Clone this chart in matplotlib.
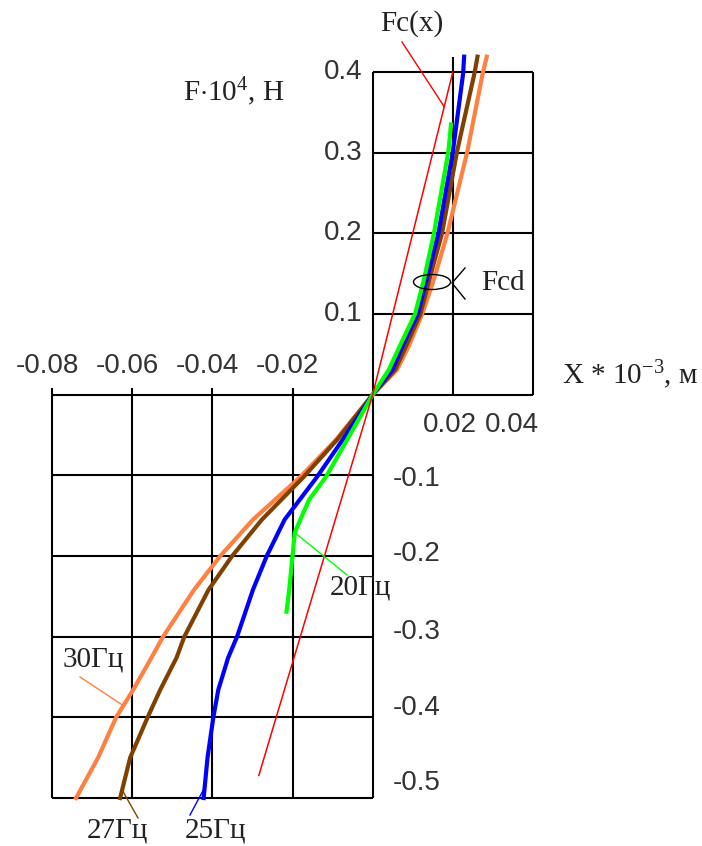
import numpy as np
import matplotlib
matplotlib.use("Agg")
import matplotlib.pyplot as plt
from matplotlib.patches import Ellipse

# Reference characteristic Fc(x)
fc_x = [-0.0284, 0.0, 0.0200]
fc_y = [-0.472, 0.0, 0.400]

# Measured force-displacement curves (x in 1e-3 m, F in 1e4 N)
green_x = [-0.02148, -0.02074, -0.0200, -0.01944, -0.01806, -0.01583, -0.01167, -0.00639,
           0.0, 0.00404, 0.00674, 0.01056, 0.01281, 0.01528, 0.01888, 0.01955]
green_y = [-0.269, -0.238, -0.200, -0.171, -0.155, -0.130, -0.102, -0.056,
           0.0, 0.031, 0.060, 0.100, 0.143, 0.200, 0.301, 0.335]

curve_y = [-0.500, -0.450, -0.400, -0.366, -0.326, -0.300, -0.242, -0.200, -0.155, -0.102,
           -0.056, 0.0, 0.031, 0.060, 0.100, 0.143, 0.200, 0.301, 0.398, 0.419]
blue_x = [-0.04217, -0.0412, -0.03975, -0.03852, -0.03605, -0.03383, -0.02988, -0.02642,
          -0.02198, -0.01389, -0.0075, 0.0, 0.00494, 0.00742, 0.01124, 0.01348, 0.0164,
          0.0200, 0.02256, 0.02282]
brown_x = [-0.0630, -0.0605, -0.05614, -0.05301, -0.04892, -0.04699, -0.04096, -0.03506,
           -0.02765, -0.01722, -0.00889, 0.0, 0.00562, 0.00831, 0.01191, 0.01416, 0.0173,
           0.02103, 0.02538, 0.02615]
orange_x = [-0.0740, -0.0685, -0.0640, -0.05976, -0.05518, -0.05229, -0.04458, -0.03802,
            -0.02988, -0.01806, -0.00917, 0.0, 0.00607, 0.00899, 0.01236, 0.01528, 0.01865,
            0.02359, 0.02744, 0.02846]

x_ticks_neg = [-0.08, -0.06, -0.04, -0.02]
x_ticks_pos = [0.02, 0.04]
y_ticks_pos = [0.1, 0.2, 0.3, 0.4]
y_ticks_neg = [-0.1, -0.2, -0.3, -0.4, -0.5]

C_GREEN = "#00ff00"
C_BLUE = "#0000ff"
C_BROWN = "#804000"
C_ORANGE = "#ff8040"
C_RED = "#ff0000"

plt.rcParams["mathtext.fontset"] = "custom"
plt.rcParams["mathtext.rm"] = "Liberation Serif"
plt.rcParams["mathtext.it"] = "Liberation Serif:italic"

W, H = 702, 846
fig = plt.figure(figsize=(W / 100, H / 100), dpi=100)
fig.patch.set_facecolor("white")
ax = fig.add_axes([52 / W, 1 - 798 / H, 481 / W, 726 / H])
ax.set_xlim(-0.08, 0.04)
ax.set_ylim(-0.5, 0.4)
ax.axis("off")

px_per_x = 481 / 0.12
px_per_y = 726 / 0.9

def px2data(px, py):
    return (px - 52) / px_per_x - 0.08, 0.4 - (py - 72) / px_per_y

grid_kw = dict(color="black", lw=1.5, clip_on=False, zorder=1)
# upper-right frame
ax.hlines(y_ticks_pos, 0, x_ticks_pos[-1], **grid_kw)
ax.vlines([0.0] + x_ticks_pos, 0, y_ticks_pos[-1], **grid_kw)
ax.vlines(x_ticks_pos[0], y_ticks_pos[-1], y_ticks_pos[-1] + 15 / px_per_y, **grid_kw)
# x axis
ax.hlines(0, x_ticks_neg[0], x_ticks_pos[-1], **grid_kw)
# lower-left frame
ax.hlines(y_ticks_neg, x_ticks_neg[0], 0, **grid_kw)
ax.vlines(x_ticks_neg + [0.0], y_ticks_neg[-1], 0, **grid_kw)
ax.vlines(x_ticks_neg, 0, 7 / px_per_y, **grid_kw)

# curves
lw_c = 3.0
ax.plot(orange_x, curve_y, color=C_ORANGE, lw=lw_c, clip_on=False, zorder=3)
ax.plot(brown_x, curve_y, color=C_BROWN, lw=lw_c, clip_on=False, zorder=4)
ax.plot(blue_x, curve_y, color=C_BLUE, lw=lw_c, clip_on=False, zorder=5)
ax.plot(green_x, green_y, color=C_GREEN, lw=lw_c, clip_on=False, zorder=6)
ax.plot(fc_x, fc_y, color=C_RED, lw=1.1, clip_on=False, zorder=7)

# tick labels
tick_font = dict(family="Liberation Sans", fontsize=20, color="#333333")
for v in x_ticks_neg:
    ax.text(v - 0.0012, 0.035, f"{v:.2f}", ha="center", va="center", **tick_font)
for v, xt in zip(x_ticks_pos, [0.0192, 0.0347]):
    ax.text(xt, -0.037, f"{v:.2f}", ha="center", va="center", **tick_font)
for v in y_ticks_pos:
    ax.text(-0.0025, v, f"{v:.1f}", ha="right", va="center", **tick_font)
neg_label_pos = [-0.105, -0.198, -0.294, -0.388, -0.481]
for v, yt in zip(y_ticks_neg, neg_label_pos):
    ax.text(0.0050, yt, f"{v:.1f}", ha="left", va="center", **tick_font)

lab_font = dict(family="Liberation Serif", fontsize=21, color="#222222")

def ptext(px, py, s, **kw):
    x, y = px2data(px, py)
    ax.text(x, y, s, ha="center", va="center", clip_on=False, **kw)

ptext(412, 24, "Fc(x)", **lab_font)
ptext(234, 92, r"F$\cdot$10$^{4}$, H", **lab_font)
ptext(630, 375, r"X * 10$^{-3}$, м", **lab_font)
ptext(503, 283, "Fcd", **lab_font)
ptext(360, 588, "20Гц", **lab_font)
ptext(93, 659, "30Гц", **lab_font)
ptext(117, 830, "27Гц", **lab_font)
ptext(216, 830, "25Гц", **lab_font)

def leader(px, py, xs, ys, y_on, color, lw=1.0):
    x0, y0 = px2data(px, py)
    x1 = np.interp(y_on, ys, xs)
    ax.plot([x0, x1], [y0, y_on], color=color, lw=lw, clip_on=False, zorder=8)

leader(402, 42, fc_x, fc_y, 0.357, C_RED)
leader(347, 575, green_x, green_y, -0.171, C_GREEN)
leader(80, 677, orange_x, curve_y, -0.3855, C_ORANGE)
leader(138, 818, brown_x, curve_y, -0.490, C_BROWN)
leader(190, 815, blue_x, curve_y, -0.487, C_BLUE)

# Fcd marker
ex, ey = px2data(432, 282)
ax.add_patch(Ellipse((ex, ey), 37 / px_per_x, 15 / px_per_y, fill=False,
                     edgecolor="black", lw=1.0, zorder=9, clip_on=False))
pts = [px2data(465, 268), px2data(452, 283), px2data(465, 299)]
ax.plot([p[0] for p in pts], [p[1] for p in pts], color="black", lw=1.0,
        clip_on=False, zorder=9)

fig.savefig("out.png", dpi=100, facecolor="white")
